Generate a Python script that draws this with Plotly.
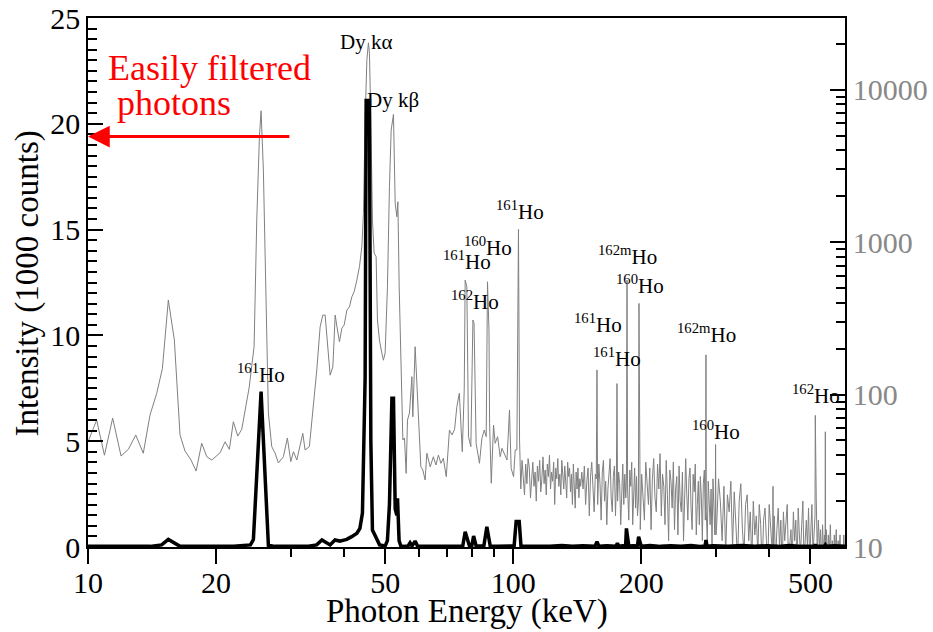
import plotly.graph_objects as go
import numpy as np

# ---------------- data ----------------
# gray spectrum, right (log) axis: energy in keV, counts
gray_energy_keV = [
    10.0, 10.48, 10.93, 11.43, 11.96, 12.44, 12.95, 13.49, 13.99, 14.51,
    14.96, 15.45, 15.96, 16.46, 16.91, 17.47, 17.96, 18.51, 19.03, 19.55,
    20.45, 21.01, 21.50, 21.97, 22.50, 22.99, 23.92, 24.58, 24.94, 25.30,
    25.53, 25.85, 26.09, 26.33, 26.56, 27.05, 27.54, 28.04, 28.81, 29.44,
    29.99, 30.42, 30.98, 32.00, 32.40, 33.16, 33.89, 34.52, 35.15, 35.66,
    36.11, 36.57, 37.11, 37.66, 38.13, 38.61, 39.03, 39.54, 40.04, 40.63,
    41.20, 41.74, 42.26, 42.88, 43.49, 44.06, 44.44, 44.85, 45.27, 45.66,
    45.91, 46.26, 46.66, 47.09, 47.60, 47.94, 48.46, 49.10, 49.52, 49.98,
    50.61, 51.16, 51.64, 52.29, 52.78, 53.26, 53.55, 53.93, 54.43, 55.02,
    55.50, 56.01, 56.41, 57.02, 57.77, 58.07, 58.80, 59.34, 59.86, 60.64,
    61.30, 62.07, 62.64, 63.8,
    64.9, 65.8, 66.7, 67.6, 68.5, 69.6, 70.8, 71.8, 72.8, 73.7,
    74.7, 75.9, 76.7, 77.1, 77.8, 78.5, 79.5, 80.4, 80.9, 81.8,
    83.3, 84.4, 85.5, 86.4, 87.0, 87.7, 88.0, 88.8, 89.9, 90.7,
    91.9, 93.2, 94.1, 95.2, 96.7, 98.0, 98.9, 100.2, 101.1, 102.0,
    102.9, 103.5,
    104.2, 104.9, 105.6, 106.3, 107.0, 107.7, 108.4, 109.1, 109.8, 110.5,
    111.2, 111.9, 112.6, 113.3, 114.0, 114.7, 115.4, 116.1, 116.8, 117.5,
    118.2, 118.9, 119.6, 120.3, 121.0, 121.7, 122.4, 123.1, 123.8, 124.5,
    125.2, 125.9, 126.6, 127.3, 128.0, 128.7, 129.4, 130.1, 130.8, 131.5,
    132.2, 132.9, 133.6, 134.3, 135.0, 135.7, 136.4, 137.1, 137.8, 138.5,
    139.2, 139.9, 140.6, 141.3, 142.0, 142.7, 143.4, 144.1,
    145, 146, 147, 148, 149, 150, 151, 152, 153, 154, 155, 156,
    156.8, 157.4,
    158, 159, 160, 161, 162, 163, 164, 165, 166, 167, 168, 169, 170, 171, 172, 173, 174,
    174.8, 175.4,
    176, 177, 178, 179, 180, 181, 182, 183, 184,
    184.6, 185.2, 185.8,
    187, 188, 189, 190, 191, 192, 193, 194, 195, 196,
    197.0, 197.6, 198.2, 199,
    200.5, 202, 203.5, 205, 206.5, 208, 209.5, 211, 212.5, 214,
    215.5, 217, 218.5, 220, 221.5, 223, 224.5, 226, 227.5, 229,
    230.5, 232, 233.5, 235, 236.5, 238, 239.5, 241, 242.5, 244,
    245.5, 247, 248.5, 250, 251.5, 253, 254.5, 256, 257.5, 259,
    260.5, 262, 263.5, 265, 266.5, 268, 269.5, 271, 272.5, 274,
    275.5, 277, 278.5, 280, 281.5, 283,
    283.6, 284.0, 284.5,
    286, 287.5, 289, 290.5, 292, 293.5, 295, 296.5, 298,
    298.7, 299.2, 299.8,
    301, 304, 307, 310, 313, 316, 319, 322, 325, 328,
    331, 334, 337, 340, 343, 346, 349, 352, 355, 358,
    361, 364, 367, 370, 373, 376, 379, 382, 385, 388,
    391, 394, 397, 400, 403, 406,
    407.6, 408.3, 409.0,
    411, 414, 417, 420, 423, 426, 429, 432, 435, 438,
    441, 444, 447, 450, 453, 456, 459, 462, 465, 468,
    471, 474, 477, 480, 483, 486, 489, 492, 495, 498,
    501, 504, 507, 510,
    512.6, 513.4, 514.3, 516,
    519, 522, 525, 528, 531, 534, 537, 540,
    541.4, 542.1, 542.8,
    545, 548, 551, 554, 557, 560, 563, 566, 569, 572,
    575, 578, 581, 584, 587, 590, 593, 596, 599, 602,
]
gray_counts = [
    49, 68, 40, 70, 39.5, 43.7, 54.3, 41.2, 73.4, 102,
    148, 417, 228, 54.3, 42.6, 37.2, 31.5, 47.9, 39.1, 37.2,
    41.5, 49, 43.7, 66.3, 53.4, 59.1, 110, 206, 1394, 4904,
    7261, 2965, 847, 187, 75.6, 45.5, 41.3, 35.6, 39.1, 51.9,
    36.3, 42.2, 37.2, 55.7, 43.3, 45.5, 83.2, 145, 278, 332,
    332, 228, 134, 152, 332, 265, 222, 272, 286, 358,
    376, 438, 472, 563, 689, 932, 1542, 6310, 15600, 20280,
    17350, 6310, 1394, 847, 801, 308, 228, 187, 168, 187,
    509, 2306, 5425, 6877, 1794, 1465, 1838, 509, 138, 50.3,
    51.9, 30.4, 68, 75.6, 131, 71.5, 206, 112, 75.3, 33.6,
    32, 27.5, 41.2, 33.6,
    39.1, 34.5, 40.1, 35.4, 38.2, 28.9, 58.5, 54.3, 59.1, 83.2,
    102, 42.2, 107, 563, 509, 52.9, 45.5, 308, 293, 47.9,
    35.4, 51.6, 58.5, 52.9, 549, 265, 64.7, 26.2, 63.1, 47.9,
    52.9, 39.1, 44.4, 41.1, 37.2, 79.1, 32.8, 28.9, 43.3, 43.3,
    1211, 50.3,
    24, 37, 30, 22, 35, 26, 38, 33, 21, 29,
    36, 25, 31, 20, 34, 27, 37, 23, 28, 39,
    26, 32, 22, 35, 29, 40, 24, 31, 27, 36,
    19, 33, 28, 38, 25, 30, 22, 37, 31, 24,
    34, 27, 21, 36, 29, 33, 23, 30, 19, 35,
    26, 18, 31, 24, 33, 21, 28, 25,
    31, 24, 34, 19, 27, 33, 16, 29, 36, 22, 17, 30,
    28, 145,
    19, 35, 26, 15, 31, 37, 20, 27, 14, 24, 33, 38, 21, 17, 29, 34, 16,
    25, 118,
    20, 31, 26, 14, 28, 35, 19, 30, 21,
    27, 563, 24,
    15, 32, 25, 36, 14, 22, 33, 18, 29, 16,
    20, 396, 22, 13,
    30, 22, 15, 36, 26, 19, 33, 13, 28, 38,
    21, 17, 35, 24, 41, 16, 30, 25, 14, 37,
    22, 11, 32, 27, 18, 36, 13, 24, 29, 12,
    34, 20, 17, 31, 11, 26, 38, 22, 15, 28,
    33, 18, 13, 30, 23, 35, 12, 19, 27, 14,
    29, 21, 11, 26, 32, 15,
    20, 182, 17,
    11, 27, 20, 14, 24, 10, 28, 17, 12,
    16, 47, 12,
    14, 28, 20, 11, 25, 9, 22, 17, 27, 10,
    23, 14, 8, 20, 26, 13, 9, 19, 22, 11,
    17, 8, 20, 12, 16, 9, 19, 14, 7, 15,
    18, 11, 8, 19, 13, 10,
    10, 25, 9,
    16, 8, 13, 18, 10, 15, 7, 17, 11, 14,
    19, 8, 10, 13, 8, 17, 11, 15, 7, 18,
    12, 9, 14, 20, 8, 11, 15, 10, 18, 8,
    13, 19, 9, 14,
    16, 73, 34, 21,
    9, 15, 10, 13, 8, 14, 9, 12,
    10, 57, 11,
    13, 8, 12, 9, 14, 8, 11, 7, 12, 9,
    13, 8, 11, 9, 12, 7, 10, 8, 12, 9,
]

# black spectrum, left (linear) axis: energy in keV, intensity in 1000 counts
black_energy_keV = [
    10.0, 12.0, 14.0, 14.9, 15.45, 16.46, 18.0, 20.0, 22.0, 24.1,
    24.49, 25.53, 26.56, 27.5, 30.0, 33.0, 34.5, 35.5, 37.1, 38.1,
    39.1, 40.6, 41.7, 42.9, 43.6, 44.2, 44.85, 45.1, 45.9, 46.26,
    46.66, 47.6, 48.5, 50.0, 50.6, 51.16, 51.6, 51.85, 52.29, 52.78,
    53.26, 53.45, 53.9, 54.4, 55.5, 56.5, 57.2, 57.8, 58.8, 59.6,
    62, 66, 70, 74, 76.1, 77.1, 78.9, 79.9, 80.7, 81.8,
    84.0, 85.3, 86.7, 88.3, 92, 96, 100.5, 101.6, 102.1, 103.3,
    104.3, 108, 115, 122, 130, 138, 146, 152, 155.8, 157.4,
    159.0, 166, 174.4, 175.8, 177.2, 181, 183.8, 184.6, 185.6, 187.0,
    192, 196.0, 197.2, 198.6, 200.0, 210, 222, 235, 248, 262,
    275, 282.6, 284.0, 285.6, 295, 320, 345, 370, 395, 420,
    445, 470, 495, 511.5, 513.4, 515.5, 540, 542.1, 544, 570,
    603,
]
black_kcounts = [
    0.03, 0.04, 0.03, 0.1, 0.36, 0.03, 0.02, 0.03, 0.04, 0.1,
    0.35, 7.34, 0.08, 0.03, 0.03, 0.04, 0.1, 0.33, 0.1, 0.33,
    0.28, 0.36, 0.49, 0.65, 0.88, 1.6, 8.0, 21.1, 21.1, 5.0,
    0.8, 0.4, 0.1, 0.05, 0.3, 2.0, 5.5, 7.03, 7.03, 1.8,
    1.5, 2.3, 0.3, 0.05, 0.03, 0.03, 0.2, 0.05, 0.28, 0.03,
    0.03, 0.04, 0.03, 0.04, 0.05, 0.72, 0.05, 0.05, 0.52, 0.05,
    0.04, 0.05, 0.96, 0.05, 0.03, 0.04, 0.05, 1.2, 1.2, 1.2,
    0.05, 0.04, 0.06, 0.03, 0.07, 0.04, 0.06, 0.03, 0.04, 0.25,
    0.04, 0.06, 0.04, 0.17, 0.04, 0.06, 0.05, 0.88, 0.6, 0.05,
    0.06, 0.05, 0.49, 0.3, 0.04, 0.07, 0.03, 0.06, 0.04, 0.07,
    0.03, 0.05, 0.33, 0.04, 0.06, 0.03, 0.07, 0.04, 0.06, 0.03,
    0.07, 0.04, 0.06, 0.05, 0.12, 0.04, 0.05, 0.1, 0.04, 0.06,
    0.04,
]

x_tick_vals = [10, 20, 50, 100, 200, 500]
left_tick_vals = [0, 5, 10, 15, 20, 25]
right_tick_vals = [10, 100, 1000, 10000]

# peak labels: text and centre position in pixels of the 933x632 canvas
peak_labels = [
    ("<sup>161</sup>Ho", 261, 373),
    ("Dy kα", 366, 42),
    ("Dy kβ", 393, 100),
    ("<sup>161</sup>Ho", 520, 210),
    ("<sup>160</sup>Ho", 488, 246.5),
    ("<sup>161</sup>Ho", 466.5, 260.5),
    ("<sup>162</sup>Ho", 474.5, 300.5),
    ("<sup>162m</sup>Ho", 627.5, 255.5),
    ("<sup>160</sup>Ho", 639.5, 284.5),
    ("<sup>161</sup>Ho", 598, 323.5),
    ("<sup>161</sup>Ho", 617, 358),
    ("<sup>162m</sup>Ho", 706, 333.5),
    ("<sup>160</sup>Ho", 716, 430),
    ("<sup>162</sup>Ho", 815.5, 395),
]

assert len(gray_energy_keV) == len(gray_counts)
assert len(black_energy_keV) == len(black_kcounts)

# ---------------- figure ----------------
W, H = 933, 632
L, R, T, B = 88, 845, 18, 547
GRAY = "rgb(128,128,128)"
FONT = "Liberation Serif, Times New Roman, serif"


def paper(xp, yp):
    return (xp - L) / (R - L), (B - yp) / (B - T)


fig = go.Figure()
fig.add_trace(go.Scatter(x=gray_energy_keV, y=gray_counts, mode="lines",
                         line=dict(color=GRAY, width=1.0), yaxis="y",
                         hoverinfo="skip", showlegend=False))
fig.add_trace(go.Scatter(x=black_energy_keV, y=black_kcounts, mode="lines",
                         line=dict(color="black", width=3.5), yaxis="y2",
                         hoverinfo="skip", showlegend=False))

right_minor = [m * 10 ** d for d in (1, 2, 3) for m in range(2, 10)] + [20000]

fig.update_layout(
    template="none",
    width=W, height=H,
    margin=dict(l=L, r=W - R, t=T, b=H - B, pad=0, autoexpand=False),
    paper_bgcolor="white", plot_bgcolor="white",
    font=dict(family=FONT, color="black", size=30),
    showlegend=False,
    xaxis=dict(
        type="log", range=[1, np.log10(603)], automargin=False,
        tickvals=x_tick_vals, ticktext=[str(v) for v in x_tick_vals],
        ticks="outside", ticklen=15, tickwidth=1.5, tickcolor="black",
        ticklabelstandoff=-7,
        showline=True, linecolor="black", linewidth=1.5, mirror=True,
        showgrid=False, zeroline=False,
        tickfont=dict(size=30, color="black", family=FONT),
        minor=dict(tickvals=[30, 40, 60, 70, 80, 90, 300, 400],
                   ticks="outside", ticklen=8, tickwidth=1.5,
                   tickcolor="black", showgrid=False),
    ),
    yaxis=dict(
        type="log", side="right", range=[1, np.log10(29500)], automargin=False,
        tickvals=right_tick_vals, ticktext=[str(v) for v in right_tick_vals],
        ticks="inside", ticklen=15, tickwidth=1.5, tickcolor="black",
        showline=True, linecolor="black", linewidth=1.5,
        showgrid=False, zeroline=False,
        tickfont=dict(size=30, color="rgb(136,136,136)", family=FONT),
        minor=dict(tickvals=right_minor, ticks="inside", ticklen=9,
                   tickwidth=1.5, tickcolor="black", showgrid=False),
    ),
    yaxis2=dict(
        overlaying="y", side="left", range=[0, 25], automargin=False,
        tickvals=left_tick_vals, ticktext=[str(v) for v in left_tick_vals],
        ticks="inside", ticklen=15, tickwidth=1.5, tickcolor="black",
        showline=True, linecolor="black", linewidth=1.5,
        showgrid=False, zeroline=False,
        tickfont=dict(size=30, color="black", family=FONT),
        minor=dict(dtick=0.5, ticks="inside", ticklen=9, tickwidth=1.5,
                   tickcolor="black", showgrid=False),
    ),
)

annotations = []
for text, xp, yp in peak_labels:
    fx, fy = paper(xp, yp)
    annotations.append(dict(text=text, x=fx, y=fy, xref="paper", yref="paper",
                            xanchor="center", yanchor="middle", showarrow=False,
                            font=dict(size=21, color="black", family=FONT)))

# red note and arrow
fx, fy = paper(106, 68)
annotations.append(dict(text="Easily filtered", x=fx, y=fy, xref="paper", yref="paper",
                        xanchor="left", yanchor="middle", showarrow=False,
                        font=dict(size=36, color="red", family=FONT)))
fx, fy = paper(115, 103)
annotations.append(dict(text="photons", x=fx, y=fy, xref="paper", yref="paper",
                        xanchor="left", yanchor="middle", showarrow=False,
                        font=dict(size=36, color="red", family=FONT)))
annotations.append(dict(text="", x=np.log10(10), y=19.4, xref="x", yref="y2",
                        ax=np.log10(30), ay=19.4, axref="x", ayref="y2",
                        showarrow=True, arrowhead=2, arrowsize=1.45, arrowwidth=3,
                        arrowcolor="red", standoff=0, startstandoff=0))

# axis titles
fx, fy = paper(467, 611)
annotations.append(dict(text="Photon Energy (keV)", x=fx, y=fy, xref="paper", yref="paper",
                        xanchor="center", yanchor="middle", showarrow=False,
                        font=dict(size=33, color="black", family=FONT)))
fx, fy = paper(27, 283.4)
annotations.append(dict(text="Intensity (1000 counts)", x=fx, y=fy, xref="paper",
                        yref="paper", xanchor="center", yanchor="middle",
                        textangle=-90, showarrow=False,
                        font=dict(size=33, color="black", family=FONT)))

fig.update_layout(annotations=annotations)
fig.write_html("out.html")
